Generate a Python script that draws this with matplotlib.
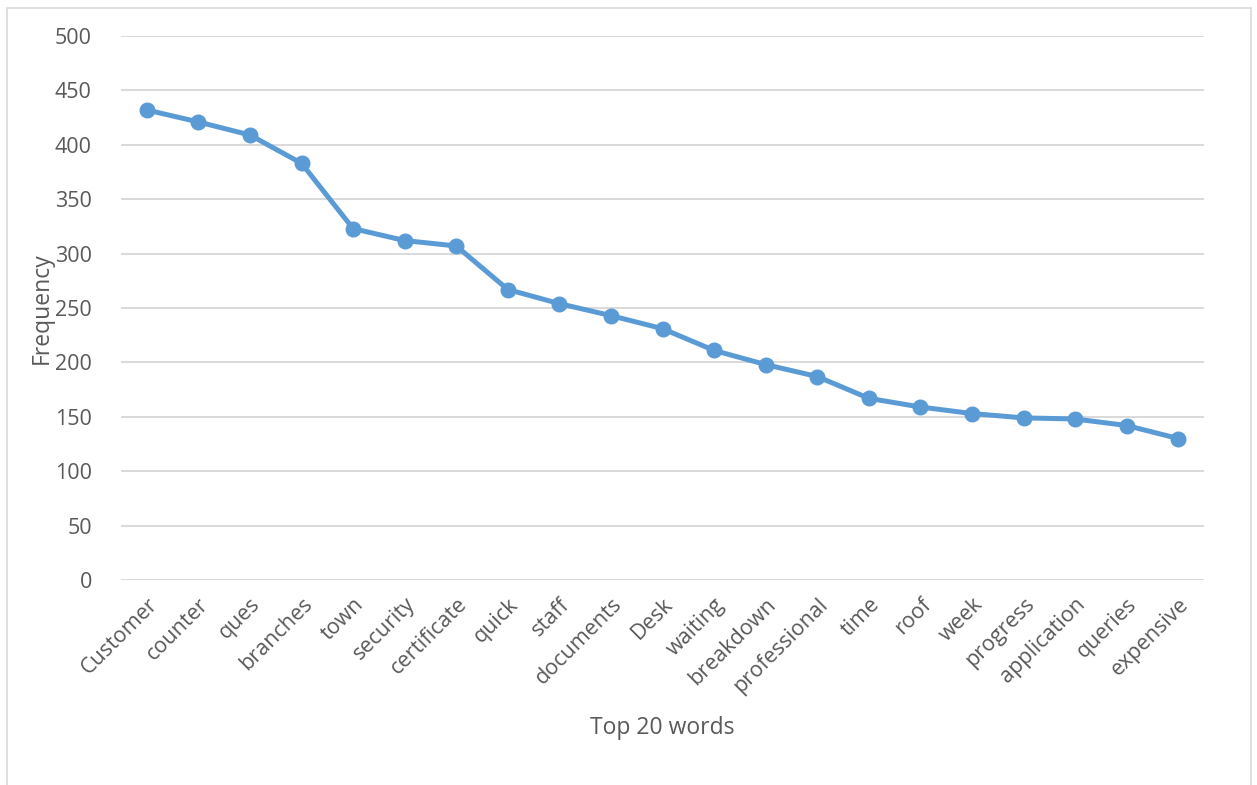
import matplotlib
matplotlib.use("Agg")
import matplotlib.pyplot as plt
from matplotlib.patches import Rectangle

words = ["Customer", "counter", "ques", "branches", "town", "security", "certificate",
         "quick", "staff", "documents", "Desk", "waiting", "breakdown", "professional",
         "time", "roof", "week", "progress", "application", "queries", "expensive"]
freq = [432, 421, 409, 383, 323, 312, 307, 267, 254, 243, 231, 211, 198, 187,
        167, 159, 153, 149, 148, 142, 130]
yticks = [0, 50, 100, 150, 200, 250, 300, 350, 400, 450, 500]

plt.rcParams['font.family'] = ['Open Sans', 'DejaVu Sans']
W, H = 1257, 785
fig = plt.figure(figsize=(W/100, H/100), dpi=100)
fig.patch.set_facecolor('white')

# outer chart border
fig.patches.append(Rectangle((7/W, -0.01), (1251-7)/W, 1.01 - 8/H,
                             transform=fig.transFigure, fill=False,
                             edgecolor='#D9D9D9', linewidth=1.2))

left, right = 121/W, 1204/W
bottom, top = 1 - 580/H, 1 - 36/H
ax = fig.add_axes([left, bottom, right-left, top-bottom])

x = list(range(len(words)))
ax.plot(x, freq, color='#5B9BD5', linewidth=3.6, marker='o', markersize=10.5,
        solid_capstyle='round', solid_joinstyle='round', zorder=3)

ax.set_xlim(-0.5, len(words)-0.5)
ax.set_ylim(0, 500)
ax.set_yticks(yticks)
ax.set_xticks(x)
ax.set_xticklabels(words, rotation=45, ha='right', rotation_mode='anchor')
ax.grid(axis='y', color='#D9D9D9', linewidth=1.4)
ax.set_axisbelow(True)
for s in ax.spines.values():
    s.set_visible(False)
ax.tick_params(axis='both', length=0, colors='#595959', labelsize=15.5)
ax.tick_params(axis='y', pad=21)
ax.tick_params(axis='x', pad=10)

ax.set_xlabel("Top 20 words", fontsize=16.5, color='#595959', labelpad=14)
ax.set_ylabel("Frequency", fontsize=16.5, color='#595959', labelpad=0.5)

fig.savefig("out.png", dpi=100, facecolor='white')
